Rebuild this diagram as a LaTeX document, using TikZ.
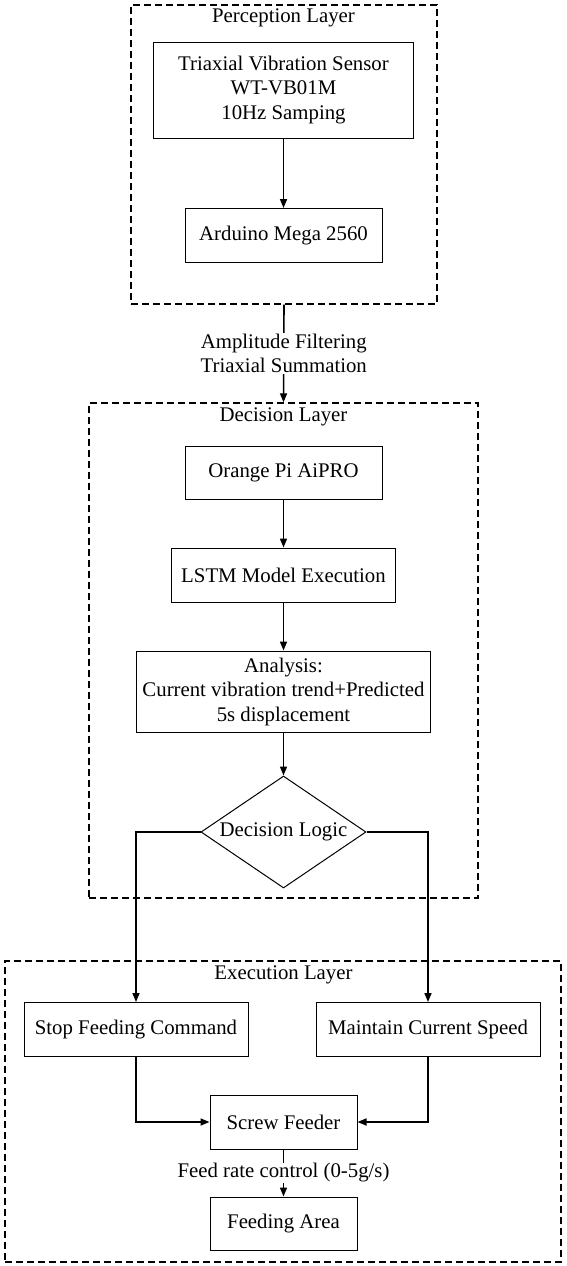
\documentclass[tikz,border=0pt]{standalone}
\usepackage{fontspec}
\setmainfont{Liberation Serif}
\usetikzlibrary{arrows.meta,shapes.geometric}

\begin{document}
\begin{tikzpicture}[
		x=1pt, y=-1pt,
		font=\fontsize{20.8}{24.5}\selectfont,
		layerbox/.style={draw, dashed, dash pattern=on 7pt off 4pt, line width=1.3pt, inner sep=0pt},
		procbox/.style={draw, line width=1pt, inner sep=0pt, align=center, minimum height=54pt},
		logicbox/.style={draw, diamond, line width=1pt, inner sep=0pt, aspect=1.47, minimum width=165pt, minimum height=112pt},
		flow/.style={line width=1.6pt, -{Triangle[length=9pt,width=7pt]}}
		]
		
		% Parameters
		\def\cx{283.5}
		
		\useasboundingbox (0,0) rectangle (566,1266);
		
		% Draw the three layers
		\node[layerbox, minimum width=306pt, minimum height=299pt] (percep) at (284,154.5) {};
		\node[layerbox, minimum width=389pt, minimum height=495pt] (decis) at (283.5,650.5) {};
		\node[layerbox, minimum width=556pt, minimum height=301pt] (exec) at (283,1111.5) {};
		
		% Layer titles
		\node (percept) at (\cx,18) {Perception Layer};
		\node (decist) at (\cx,417) {Decision Layer};
		\node (exect) at (\cx,975) {Execution Layer};
		
		% Perception layer
		\node[procbox, minimum width=260pt, minimum height=96pt] (sensor) at (\cx,90) {Triaxial Vibration Sensor\\WT-VB01M\\10Hz Samping};
		\node[procbox, minimum width=197pt] (arduino) at (\cx,235.5) {Arduino Mega 2560};
		
		% Decision layer
		\node[procbox, minimum width=197pt, minimum height=53pt] (orange) at (\cx,472.5) {Orange Pi AiPRO};
		\node[procbox, minimum width=224pt] (lstm) at (\cx,575) {LSTM Model Execution};
		\node[procbox, minimum width=294pt, minimum height=81pt] (analysis) at (\cx,691.5) {Analysis:\\Current vibration trend+Predicted\\5s displacement};
		\node[logicbox] (logic) at (\cx,832) {Decision Logic};
		
		% Execution layer
		\node[procbox, minimum width=224pt] (stop) at (136,1029.5) {Stop Feeding Command};
		\node[procbox, minimum width=224pt] (keep) at (428,1029.5) {Maintain Current Speed};
		\node[procbox, minimum width=147pt] (screw) at (\cx,1122) {Screw Feeder};
		\node[procbox, minimum width=147pt, minimum height=53pt] (area) at (\cx,1223.5) {Feeding Area};
		
		% Draw the arrows
		\draw[flow] (sensor) -- (arduino);
		\draw[flow] (percep.south) -- node[fill=white, align=center, inner sep=1pt] (filter) {Amplitude Filtering\\Triaxial Summation} (decis.north);
		\draw[flow] (orange) -- (lstm);
		\draw[flow] (lstm) -- (analysis);
		\draw[flow] (analysis) -- (logic);
		\draw[flow] (logic.west) -| (stop.north);
		\draw[flow] (logic.east) -| (keep.north);
		\draw[flow] (stop.south) |- (screw.west);
		\draw[flow] (keep.south) |- (screw.east);
		\draw[flow] (screw) -- node[fill=white, inner sep=1pt] (rate) {Feed rate control (0-5g/s)} (area);
		
	\end{tikzpicture}
\end{document}
